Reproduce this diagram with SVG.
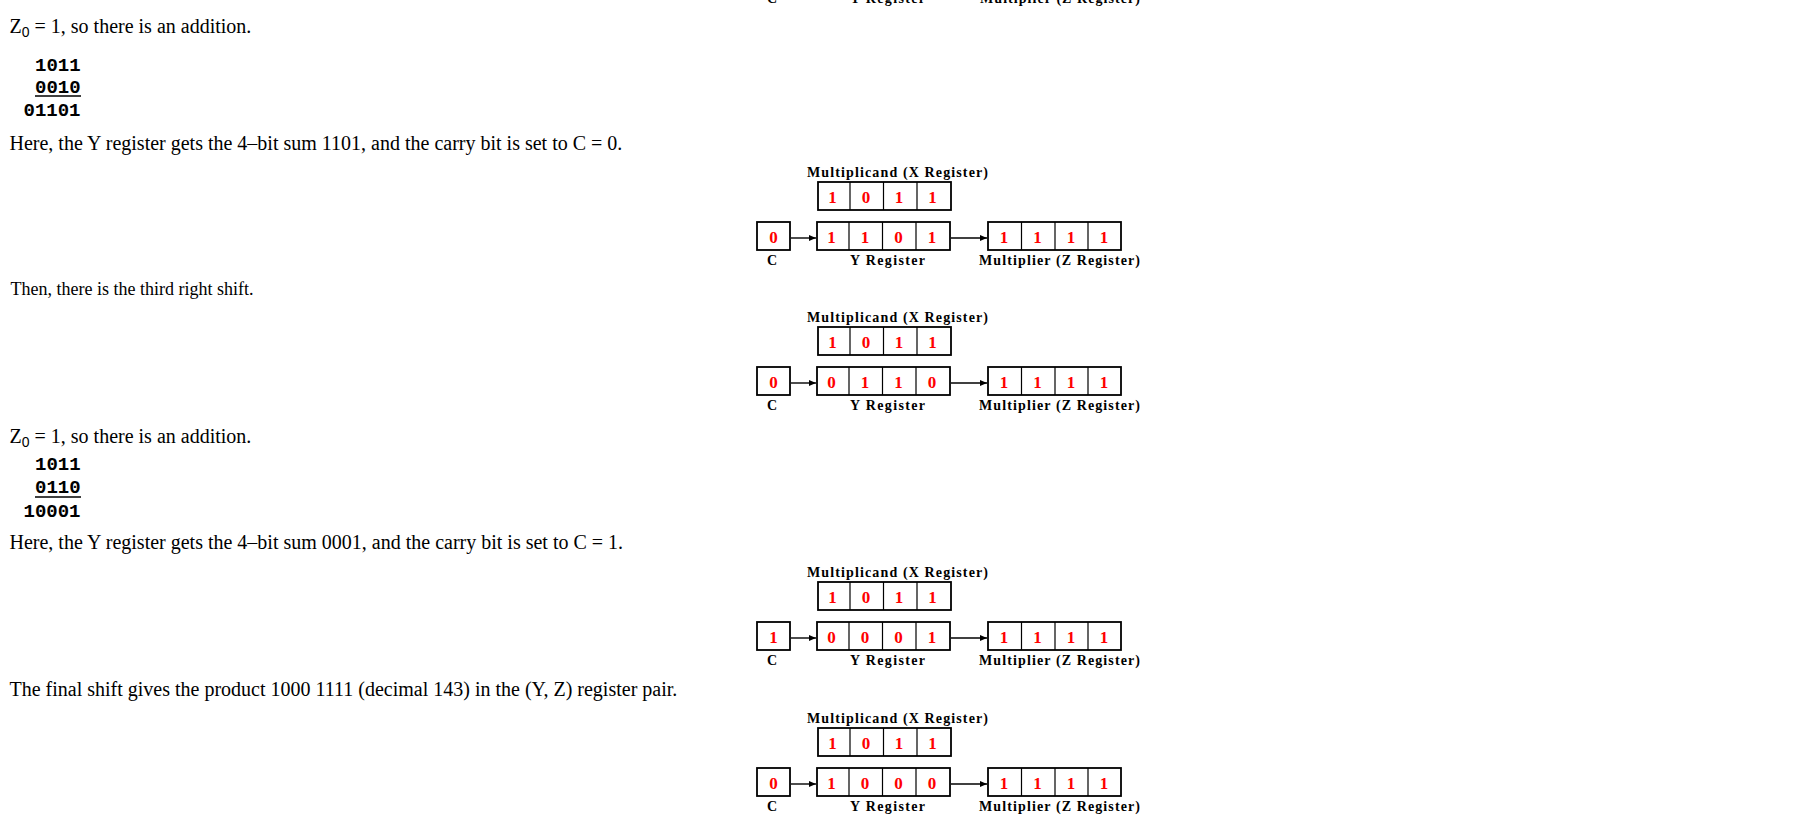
<svg xmlns="http://www.w3.org/2000/svg" width="1798" height="827" viewBox="0 0 1798 827">
<style>
.body{font-family:"Liberation Serif","Times New Roman",serif;font-size:20px;fill:#000}
.sm{font-size:18px}
.sub{font-family:"Liberation Sans",Arial,sans-serif;font-size:14px}
.mono{font-family:"Liberation Mono","Courier New",monospace;font-size:19px;font-weight:bold;fill:#000}
.lbl{font-family:"Liberation Serif","Times New Roman",serif;font-weight:bold;font-size:14px;fill:#000}
.dig{font-family:"Liberation Serif","Times New Roman",serif;font-weight:bold;font-size:17px;fill:#f00;text-anchor:middle}
.box{fill:#fff;stroke:#000;stroke-width:1.8}
.dv{stroke:#000;stroke-width:1.2}
.arr{stroke:#000;stroke-width:1.4;fill:none;marker-end:url(#ah)}
</style>
<defs>
<marker id="ah" markerUnits="userSpaceOnUse" markerWidth="8" markerHeight="7" refX="7" refY="3.5" orient="auto">
<path d="M0,0.5 L7,3.5 L0,6.5 z" fill="#000"/>
</marker>
</defs>
<rect width="1798" height="827" fill="#fff"/>

<g id="text">
<text class="body" x="9.5" y="33">Z<tspan class="sub" dy="4">0</tspan><tspan dy="-4"> = 1, so there is an addition.</tspan></text>
<text class="mono" x="35" y="71">1011</text>
<text class="mono" x="35" y="93">0010</text>
<line x1="35" y1="96" x2="81" y2="96" stroke="#000" stroke-width="1.6"/>
<text class="mono" x="23.5" y="116">01101</text>
<text class="body" x="9.5" y="150">Here, the Y register gets the 4–bit sum 1101, and the carry bit is set to C = 0.</text>
<text class="body sm" x="10.5" y="295">Then, there is the third right shift.</text>
<text class="body" x="9.5" y="443">Z<tspan class="sub" dy="4">0</tspan><tspan dy="-4"> = 1, so there is an addition.</tspan></text>
<text class="mono" x="35" y="470">1011</text>
<text class="mono" x="35" y="493">0110</text>
<line x1="35" y1="497" x2="81" y2="497" stroke="#000" stroke-width="1.6"/>
<text class="mono" x="23.5" y="517">10001</text>
<text class="body" x="9.5" y="549">Here, the Y register gets the 4–bit sum 0001, and the carry bit is set to C = 1.</text>
<text class="body" x="9.5" y="696">The final shift gives the product 1000 1111 (decimal 143) in the (Y, Z) register pair.</text>
</g>

<g id="diag0" transform="translate(0,-261)">
<text class="lbl" x="767" y="264">C</text>
<text class="lbl" x="850" y="264" textLength="75" lengthAdjust="spacing">Y Register</text>
<text class="lbl" x="980" y="264" textLength="160" lengthAdjust="spacing">Multiplier (Z Register)</text>
</g>

<g id="diag1">
<text class="lbl" x="807" y="177" textLength="181" lengthAdjust="spacing">Multiplicand (X Register)</text>
<g id="xreg1"><rect class="box" x="818" y="182" width="133" height="28"/><path class="dv" d="M850,182V210M883.5,182V210M917,182V210"/>
<text class="dig" x="832.5" y="203">1</text><text class="dig" x="866" y="203">0</text><text class="dig" x="899" y="203">1</text><text class="dig" x="932.5" y="203">1</text></g>
<g id="c1"><rect class="box" x="757" y="222" width="33" height="28"/><text class="dig" x="773.5" y="243">0</text><text class="lbl" x="767" y="265">C</text></g>
<g id="yreg1"><rect class="box" x="817" y="222" width="133" height="28"/><path class="dv" d="M849,222V250M882.5,222V250M916,222V250"/>
<text class="dig" x="831.5" y="243">1</text><text class="dig" x="865" y="243">1</text><text class="dig" x="898.5" y="243">0</text><text class="dig" x="932" y="243">1</text>
<text class="lbl" x="850" y="265" textLength="75" lengthAdjust="spacing">Y Register</text></g>
<g id="zreg1"><rect class="box" x="988" y="222" width="133" height="28"/><path class="dv" d="M1021.5,222V250M1055,222V250M1088,222V250"/>
<text class="dig" x="1004" y="243">1</text><text class="dig" x="1037.5" y="243">1</text><text class="dig" x="1071" y="243">1</text><text class="dig" x="1104" y="243">1</text>
<text class="lbl" x="979" y="265" textLength="161" lengthAdjust="spacing">Multiplier (Z Register)</text></g>
</g>

<g id="diag2" transform="translate(0,145)">
<text class="lbl" x="807" y="177" textLength="181" lengthAdjust="spacing">Multiplicand (X Register)</text>
<g id="xreg2"><rect class="box" x="818" y="182" width="133" height="28"/><path class="dv" d="M850,182V210M883.5,182V210M917,182V210"/>
<text class="dig" x="832.5" y="203">1</text><text class="dig" x="866" y="203">0</text><text class="dig" x="899" y="203">1</text><text class="dig" x="932.5" y="203">1</text></g>
<g id="c2"><rect class="box" x="757" y="222" width="33" height="28"/><text class="dig" x="773.5" y="243">0</text><text class="lbl" x="767" y="265">C</text></g>
<g id="yreg2"><rect class="box" x="817" y="222" width="133" height="28"/><path class="dv" d="M849,222V250M882.5,222V250M916,222V250"/>
<text class="dig" x="831.5" y="243">0</text><text class="dig" x="865" y="243">1</text><text class="dig" x="898.5" y="243">1</text><text class="dig" x="932" y="243">0</text>
<text class="lbl" x="850" y="265" textLength="75" lengthAdjust="spacing">Y Register</text></g>
<g id="zreg2"><rect class="box" x="988" y="222" width="133" height="28"/><path class="dv" d="M1021.5,222V250M1055,222V250M1088,222V250"/>
<text class="dig" x="1004" y="243">1</text><text class="dig" x="1037.5" y="243">1</text><text class="dig" x="1071" y="243">1</text><text class="dig" x="1104" y="243">1</text>
<text class="lbl" x="979" y="265" textLength="161" lengthAdjust="spacing">Multiplier (Z Register)</text></g>
</g>

<g id="diag3" transform="translate(0,400)">
<text class="lbl" x="807" y="177" textLength="181" lengthAdjust="spacing">Multiplicand (X Register)</text>
<g id="xreg3"><rect class="box" x="818" y="182" width="133" height="28"/><path class="dv" d="M850,182V210M883.5,182V210M917,182V210"/>
<text class="dig" x="832.5" y="203">1</text><text class="dig" x="866" y="203">0</text><text class="dig" x="899" y="203">1</text><text class="dig" x="932.5" y="203">1</text></g>
<g id="c3"><rect class="box" x="757" y="222" width="33" height="28"/><text class="dig" x="773.5" y="243">1</text><text class="lbl" x="767" y="265">C</text></g>
<g id="yreg3"><rect class="box" x="817" y="222" width="133" height="28"/><path class="dv" d="M849,222V250M882.5,222V250M916,222V250"/>
<text class="dig" x="831.5" y="243">0</text><text class="dig" x="865" y="243">0</text><text class="dig" x="898.5" y="243">0</text><text class="dig" x="932" y="243">1</text>
<text class="lbl" x="850" y="265" textLength="75" lengthAdjust="spacing">Y Register</text></g>
<g id="zreg3"><rect class="box" x="988" y="222" width="133" height="28"/><path class="dv" d="M1021.5,222V250M1055,222V250M1088,222V250"/>
<text class="dig" x="1004" y="243">1</text><text class="dig" x="1037.5" y="243">1</text><text class="dig" x="1071" y="243">1</text><text class="dig" x="1104" y="243">1</text>
<text class="lbl" x="979" y="265" textLength="161" lengthAdjust="spacing">Multiplier (Z Register)</text></g>
</g>

<g id="diag4" transform="translate(0,546)">
<text class="lbl" x="807" y="177" textLength="181" lengthAdjust="spacing">Multiplicand (X Register)</text>
<g id="xreg4"><rect class="box" x="818" y="182" width="133" height="28"/><path class="dv" d="M850,182V210M883.5,182V210M917,182V210"/>
<text class="dig" x="832.5" y="203">1</text><text class="dig" x="866" y="203">0</text><text class="dig" x="899" y="203">1</text><text class="dig" x="932.5" y="203">1</text></g>
<g id="c4"><rect class="box" x="757" y="222" width="33" height="28"/><text class="dig" x="773.5" y="243">0</text><text class="lbl" x="767" y="265">C</text></g>
<g id="yreg4"><rect class="box" x="817" y="222" width="133" height="28"/><path class="dv" d="M849,222V250M882.5,222V250M916,222V250"/>
<text class="dig" x="831.5" y="243">1</text><text class="dig" x="865" y="243">0</text><text class="dig" x="898.5" y="243">0</text><text class="dig" x="932" y="243">0</text>
<text class="lbl" x="850" y="265" textLength="75" lengthAdjust="spacing">Y Register</text></g>
<g id="zreg4"><rect class="box" x="988" y="222" width="133" height="28"/><path class="dv" d="M1021.5,222V250M1055,222V250M1088,222V250"/>
<text class="dig" x="1004" y="243">1</text><text class="dig" x="1037.5" y="243">1</text><text class="dig" x="1071" y="243">1</text><text class="dig" x="1104" y="243">1</text>
<text class="lbl" x="979" y="265" textLength="161" lengthAdjust="spacing">Multiplier (Z Register)</text></g>
</g>

<g id="connectors">
<line class="arr" x1="791" y1="238" x2="816" y2="238"/>
<line class="arr" x1="951" y1="238" x2="987" y2="238"/>
<line class="arr" x1="791" y1="383" x2="816" y2="383"/>
<line class="arr" x1="951" y1="383" x2="987" y2="383"/>
<line class="arr" x1="791" y1="638" x2="816" y2="638"/>
<line class="arr" x1="951" y1="638" x2="987" y2="638"/>
<line class="arr" x1="791" y1="784" x2="816" y2="784"/>
<line class="arr" x1="951" y1="784" x2="987" y2="784"/>
</g>
</svg>
